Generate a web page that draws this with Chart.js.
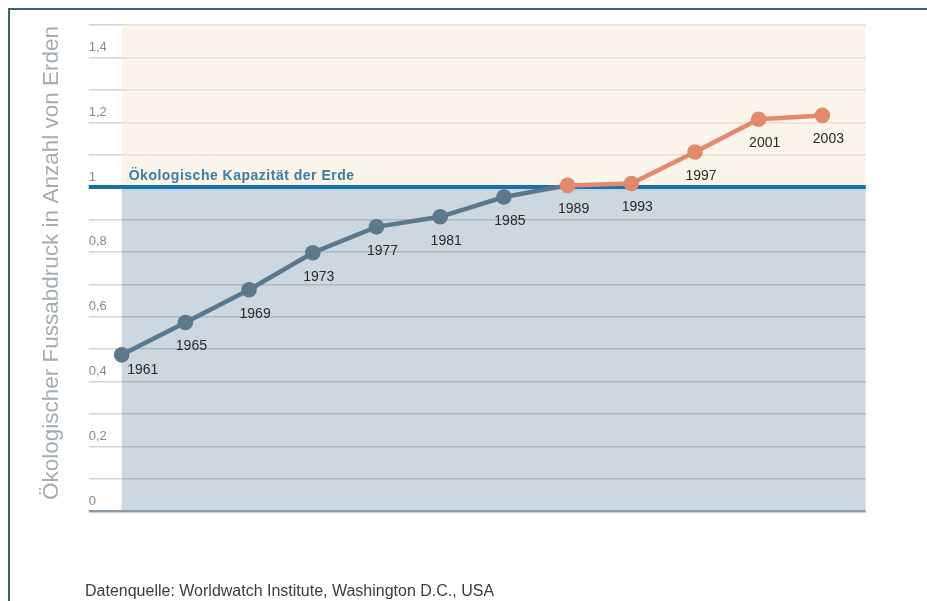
<!DOCTYPE html>
<html>
<head>
<meta charset="utf-8">
<script src="https://cdn.jsdelivr.net/npm/chart.js@4.4.0/dist/chart.umd.min.js"></script>
<style>
  html, body { margin: 0; padding: 0; background: #ffffff; overflow: hidden; }
  #wrap { position: relative; width: 927px; height: 601px; }
  #frame { position: absolute; left: 8px; top: 8px; width: 940px; height: 620px;
           border-left: 2px solid #33627c; border-top: 2px solid #33627c; pointer-events: none; }
  canvas { position: absolute; left: 0; top: 0; }
</style>
</head>
<body>
<div id="wrap">
  <canvas id="c" width="927" height="601"></canvas>
  <div id="frame"></div>
</div>
<script>
// ---- data ----
const categories = ['1961','1965','1969','1973','1977','1981','1985','1989','1993','1997','2001','2003'];
const footprint  = [0.482, 0.582, 0.683, 0.797, 0.877, 0.908, 0.969, 1.005, 1.011, 1.108, 1.209, 1.221];
const capacity   = 1;
const yTicks     = [0, 0.2, 0.4, 0.6, 0.8, 1, 1.2, 1.4];
const yTitle     = 'Ökologischer Fussabdruck in Anzahl von Erden';
const capacityLabel = 'Ökologische Kapazität der Erde';
const sourceText = 'Datenquelle: Worldwatch Institute, Washington D.C., USA';
const overshootFrom = 7; // index of 1989, first value above capacity

const BLUE_SERIES = '#5b788c';
const ORANGE_SERIES = '#e38a6d';
const FONT = '"Liberation Sans", Arial, sans-serif';

const points = footprint.map((v, i) => ({ x: i, y: v }));

const bgPlugin = {
  id: 'bg',
  beforeDraw(chart) {
    const { ctx, chartArea: a, scales: { y } } = chart;
    const yc = y.getPixelForValue(capacity);
    ctx.save();
    ctx.fillStyle = '#faf4ea';
    ctx.fillRect(a.left, a.top, a.right - a.left, yc - a.top);
    ctx.fillStyle = '#cdd7e0';
    ctx.fillRect(a.left, yc, a.right - a.left, a.bottom - yc);
    ctx.restore();
  },
  beforeDatasetsDraw(chart) {
    const { ctx, chartArea: a, scales: { y } } = chart;
    const yc = y.getPixelForValue(capacity);
    ctx.save();
    ctx.strokeStyle = '#a9d3ea';
    ctx.lineWidth = 1.2;
    ctx.beginPath();
    ctx.moveTo(a.left, yc + 3);
    ctx.lineTo(a.right, yc + 3);
    ctx.stroke();
    // capacity label
    ctx.fillStyle = '#3a7fa6';
    ctx.font = 'bold 14px ' + FONT;
    ctx.letterSpacing = '0.5px';
    ctx.textAlign = 'left';
    ctx.textBaseline = 'alphabetic';
    ctx.fillText(capacityLabel, a.left + 7, yc - 7);
    ctx.letterSpacing = '0px';
    ctx.restore();
  },
  afterDatasetsDraw(chart) {
    const { ctx } = chart;
    const meta = chart.getDatasetMeta(0);
    ctx.save();
    ctx.fillStyle = '#2a2a2a';
    ctx.font = '14px ' + FONT;
    ctx.textAlign = 'center';
    ctx.textBaseline = 'middle';
    meta.data.forEach((pt, i) => {
      const dx = i === 0 ? 21 : 6;
      const dy = i === 0 ? 15 : 24;
      ctx.fillText(categories[i], pt.x + dx, pt.y + dy);
    });
    ctx.restore();
  },
  afterDraw(chart) {
    const { ctx, chartArea: a } = chart;
    ctx.save();
    // y title
    ctx.translate(52, (a.top + a.bottom) / 2 - 5);
    ctx.rotate(-Math.PI / 2);
    ctx.fillStyle = '#a3adb3';
    ctx.font = '22.5px ' + FONT;
    ctx.textAlign = 'center';
    ctx.textBaseline = 'middle';
    ctx.fillText(yTitle, 0, 0);
    ctx.restore();
    ctx.save();
    ctx.fillStyle = '#3c3c3c';
    ctx.font = '16px ' + FONT;
    ctx.textAlign = 'left';
    ctx.textBaseline = 'middle';
    ctx.fillText(sourceText, 85, 592);
    ctx.restore();
  }
};

function gridColor(v) {
  if (Math.abs(v - capacity) < 1e-6) return '#1b70a6';
  if (Math.abs(v) < 1e-6) return '#8e9ca7';
  return v > capacity ? '#e6dfd2' : '#abb7c1';
}
function tickColor(v) {
  if (Math.abs(v - capacity) < 1e-6) return '#1b70a6';
  if (Math.abs(v) < 1e-6) return '#8e9ca7';
  return '#d4d4d4';
}
function gridWidth(v) {
  if (Math.abs(v - capacity) < 1e-6) return 4;
  if (Math.abs(v) < 1e-6) return 2.5;
  return 1.4;
}

new Chart(document.getElementById('c'), {
  type: 'line',
  data: {
    datasets: [{
      data: points,
      borderColor: BLUE_SERIES,
      borderWidth: 4.5,
      segment: {
        borderColor: c => c.p0DataIndex >= overshootFrom ? ORANGE_SERIES : BLUE_SERIES
      },
      pointBackgroundColor: c => c.dataIndex >= overshootFrom ? ORANGE_SERIES : BLUE_SERIES,
      pointBorderWidth: 0,
      pointRadius: 7.8,
      pointHoverRadius: 7.8,
      tension: 0,
      clip: false
    }]
  },
  plugins: [bgPlugin],
  options: {
    responsive: false,
    animation: false,
    events: [],
    layout: { padding: { left: 88.7, top: 25, right: 61.3, bottom: 90 } },
    plugins: { legend: { display: false }, tooltip: { enabled: false } },
    scales: {
      x: {
        type: 'linear', min: 0, max: 11.68, display: false
      },
      y: {
        min: 0, max: 1.5,
        afterFit(scale) { scale.width = 33; },
        border: { display: false },
        grid: {
          drawTicks: true,
          tickLength: 33,
          color: c => gridColor(c.tick.value),
          tickColor: c => tickColor(c.tick.value),
          lineWidth: c => gridWidth(c.tick.value),
          tickWidth: c => gridWidth(c.tick.value)
        },
        ticks: {
          stepSize: 0.1,
          autoSkip: false,
          crossAlign: 'far',
          labelOffset: -10,
          padding: 0,
          color: '#8a8a8a',
          font: { family: FONT, size: 13 },
          callback: v => {
            const r = Math.round(v * 10) / 10;
            return yTicks.some(t => Math.abs(t - r) < 1e-6) ? String(r).replace('.', ',') : '';
          }
        }
      }
    }
  }
});
</script>
</body>
</html>
